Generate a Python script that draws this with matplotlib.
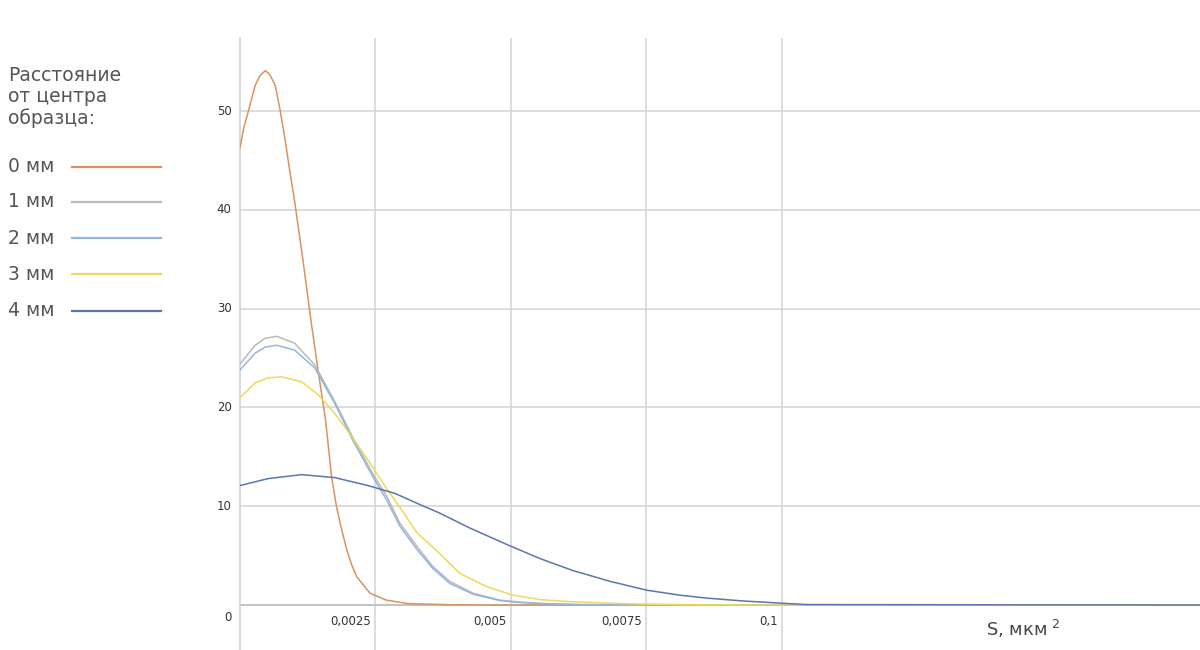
import numpy as np
import matplotlib.pyplot as plt
from matplotlib.lines import Line2D

plt.rcParams.update({
    "font.family": ["DejaVu Sans"],
})

# data: S in mkm^2, y = share of grains
x0 = [0, 0.000074, 0.00015, 0.00028, 0.00037, 0.00047, 0.00055, 0.00065, 0.00074,
      0.00083, 0.00092, 0.00101, 0.00116, 0.00131, 0.00144, 0.00158, 0.00169,
      0.00178, 0.00186, 0.00197, 0.00206, 0.00215, 0.0024, 0.0027, 0.0031,
      0.0039, 0.005, 0.0075, 0.01, 0.0178]
y0 = [46.3, 48.4, 49.9, 52.6, 53.6, 54.1, 53.7, 52.6, 50.1,
      47.2, 43.9, 40.8, 35.0, 28.8, 23.8, 18.7, 13.0,
      10.0, 8.0, 5.6, 4.1, 2.9, 1.2, 0.5, 0.15,
      0.03, 0, 0, 0, 0]

x12 = [0, 0.00028, 0.00046, 0.00068, 0.00101, 0.00138, 0.00175, 0.00208, 0.00245,
       0.00271, 0.00295, 0.00327, 0.00356, 0.00387, 0.0043, 0.0048, 0.00517,
       0.00563, 0.00627, 0.00756, 0.01, 0.0178]
y1 = [24.4, 26.3, 27.0, 27.2, 26.5, 24.3, 20.6, 17.0, 13.3,
      11.0, 8.3, 5.9, 3.9, 2.4, 1.2, 0.5, 0.3,
      0.15, 0.05, 0, 0, 0]
y2 = [23.8, 25.5, 26.1, 26.3, 25.8, 24.0, 20.4, 16.7, 13.0,
      10.6, 8.0, 5.6, 3.7, 2.2, 1.1, 0.45, 0.25,
      0.12, 0.04, 0, 0, 0]

x3 = [0, 0.00028, 0.00052, 0.00077, 0.00114, 0.00144, 0.00175, 0.00207, 0.00236,
      0.00268, 0.00295, 0.00327, 0.00363, 0.00406, 0.00456, 0.00504, 0.00554,
      0.00614, 0.00683, 0.00738, 0.00849, 0.00996, 0.0178]
y3 = [21.0, 22.5, 23.0, 23.1, 22.6, 21.3, 19.4, 17.0, 14.7,
      12.0, 9.9, 7.3, 5.5, 3.2, 1.85, 1.0, 0.55,
      0.33, 0.18, 0.1, 0.03, 0, 0]

x4 = [0, 0.00052, 0.00114, 0.00175, 0.00236, 0.00286, 0.00335, 0.00369, 0.00424,
      0.00498, 0.00554, 0.00614, 0.00683, 0.00751, 0.00812, 0.00862, 0.00932,
      0.00996, 0.01046, 0.0178]
y4 = [12.1, 12.8, 13.2, 12.9, 12.1, 11.3, 10.1, 9.3, 7.8,
      6.0, 4.7, 3.5, 2.4, 1.5, 1.0, 0.7, 0.4,
      0.2, 0.05, 0]

labels = ["0 мм", "1 мм", "2 мм", "3 мм", "4 мм"]
colors = ["#dc9260", "#b9b9b9", "#93b6dc", "#f0d85a", "#5a76ae"]
series = [(x0, y0), (x12, y1), (x12, y2), (x3, y3), (x4, y4)]

xticks = [0.0025, 0.005, 0.0075, 0.01]
xticklabels = ["0,0025", "0,005", "0,0075", "0,1"]
yticks = [0, 10, 20, 30, 40, 50]

fig = plt.figure(figsize=(12, 6.5), dpi=100)
ax = fig.add_axes([0.2, 0.0, 0.8, 1 - 38 / 650])
ax.set_xlim(0, 0.01772)
ax.set_ylim(-4.55, 57.4)

for (xs, ys), c, lab in zip(series, colors, labels):
    ax.plot(xs, ys, color=c, lw=1.1, label=lab, zorder=3,
            solid_joinstyle="round")

# grid
ax.set_xticks(xticks)
ax.set_yticks(yticks)
ax.grid(True, color="#d3d3d3", lw=1.1)
ax.set_axisbelow(True)
ax.tick_params(length=0, labelbottom=False, labelleft=False)
for s in ax.spines.values():
    s.set_visible(False)
ax.axhline(0, color="#bdbdbd", lw=1.2, zorder=1)
ax.axvline(0, color="#d0d0d0", lw=1.1, zorder=1, clip_on=False)

for xv, t in zip(xticks, xticklabels):
    ax.annotate(t, (xv, 0), xytext=(-3, -12), textcoords="offset points",
                ha="right", va="center", fontsize=8.5, color="#333333")
for yv in yticks:
    dy = -9 if yv == 0 else 0
    ax.annotate(str(yv), (0, yv), xytext=(-6, dy), textcoords="offset points",
                ha="right", va="center", fontsize=8.5, color="#333333")

ax.text(0.01377, -2.4, "S, мкм$^{\\ 2}$", fontsize=13, color="#444444",
        ha="left", va="center")

# legend drawn by hand: text, then the line on the right
fig.text(8 / 1200, 1 - 66 / 650, "Расстояние\nот центра\nобразца:",
         fontsize=13.5, color="#555555", ha="left", va="top", linespacing=1.15)
leg_y = [167, 202, 238, 274, 311]
for lab, c, yp in zip(labels, colors, leg_y):
    yf = 1 - yp / 650
    fig.text(8 / 1200, yf, lab, fontsize=13.5, color="#555555", ha="left", va="center")
    fig.add_artist(Line2D([72 / 1200, 161 / 1200], [yf, yf], color=c, lw=1.6,
                          transform=fig.transFigure))

fig.savefig("out.png", dpi=100, facecolor="white")
